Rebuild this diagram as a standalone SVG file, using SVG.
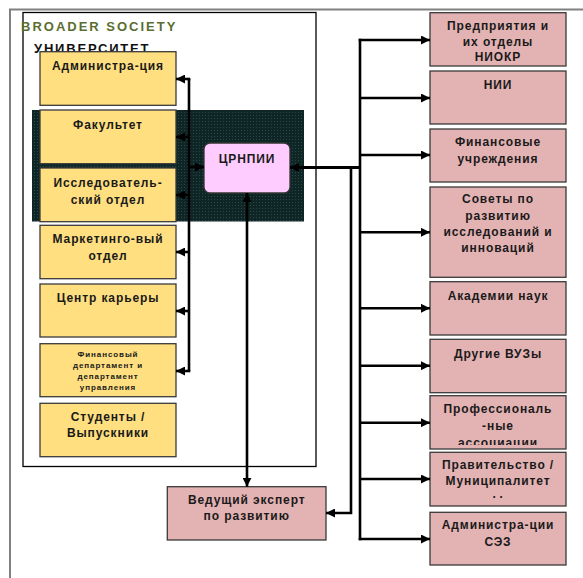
<svg xmlns="http://www.w3.org/2000/svg" width="583" height="578" viewBox="0 0 583 578">
<style>
text{font-family:"Liberation Sans",Arial,sans-serif;font-weight:bold;text-anchor:middle;fill:#1a1a1a}
.t{font-size:12px;letter-spacing:0.9px}
.s{font-size:8px;letter-spacing:0.9px}
.y{fill:#ffdf80;stroke:#3a3a3a;stroke-width:1.3}
.p{fill:#e3b2b3;stroke:#3a3a3a;stroke-width:1.3}
.c{fill:none;stroke:#000;stroke-width:2.6}
.ar{marker-end:url(#ah)}
</style>
<defs>
<marker id="ah" viewBox="0 0 10 10" refX="10" refY="5" markerWidth="9" markerHeight="9" markerUnits="userSpaceOnUse" orient="auto-start-reverse">
<path d="M0,0 L10,5 L0,10 z" fill="#000"/>
</marker>
<pattern id="dots" width="3" height="3" patternUnits="userSpaceOnUse">
<rect width="3" height="3" fill="#0f2626"/>
<rect x="1" y="1" width="0.8" height="0.8" fill="#3e5656"/>
</pattern>
<clipPath id="cp1"><rect x="430" y="396" width="136" height="49"/></clipPath>
<clipPath id="cp2"><rect x="430" y="452" width="136" height="46"/></clipPath>
</defs>

<g id="frame">
<path d="M10,578 L10,9.5 L583,9.5" fill="none" stroke="#808080" stroke-width="2"/>
<rect x="23" y="12.5" width="293" height="454" fill="#fff" stroke="#000" stroke-width="1.3"/>
<text x="21" y="30.5" style="text-anchor:start;font-size:13px;letter-spacing:2px;fill:#5a6e30">BROADER SOCIETY</text>
<text x="34" y="53" style="text-anchor:start;font-size:13px;letter-spacing:1.8px;fill:#111">УНИВЕРСИТЕТ</text>
<rect x="32" y="110" width="272" height="111.5" fill="url(#dots)"/>
</g>

<g id="n-admin"><rect class="y" x="40" y="51.7" width="136" height="53.6"/><text class="t" x="108" y="70">Администра-ция</text></g>
<g id="n-fak"><rect class="y" x="40" y="110" width="136" height="53.7"/><text class="t" x="108" y="129">Факультет</text></g>
<g id="n-issl"><rect class="y" x="40" y="168" width="136" height="53.7"/><text class="t" x="108" y="187">Исследователь-</text><text class="t" x="108" y="204">ский отдел</text></g>
<g id="n-mark"><rect class="y" x="40" y="225.3" width="136" height="53.4"/><text class="t" x="108" y="243">Маркетинго-вый</text><text class="t" x="108" y="260">отдел</text></g>
<g id="n-career"><rect class="y" x="40" y="284" width="136" height="53"/><text class="t" x="108" y="302">Центр карьеры</text></g>
<g id="n-fin"><rect class="y" x="40" y="343.7" width="136" height="53"/><text class="s" x="108" y="357">Финансовый</text><text class="s" x="108" y="368">департамент и</text><text class="s" x="108" y="379">департамент</text><text class="s" x="108" y="390">управления</text></g>
<g id="n-stud"><rect class="y" x="40" y="403.3" width="136" height="53.4"/><text class="t" x="108" y="421">Студенты /</text><text class="t" x="108" y="437">Выпускники</text></g>

<g id="n-crnpii"><rect x="204" y="143" width="86" height="50" rx="6" fill="#ffccff" stroke="#333" stroke-width="1.3"/><text class="t" x="247" y="162.5">ЦРНПИИ</text></g>
<g id="n-expert"><rect class="p" x="167.3" y="486.7" width="158.7" height="53.3"/><text class="t" x="246.7" y="504">Ведущий эксперт</text><text class="t" x="246.7" y="520">по развитию</text></g>

<g id="n-pred"><rect class="p" x="430" y="12.7" width="136" height="53.3"/><text class="t" x="498" y="30">Предприятия и</text><text class="t" x="498" y="45.7">их отделы</text><text class="t" x="498" y="61">НИОКР</text></g>
<g id="n-nii"><rect class="p" x="430" y="71" width="136" height="53"/><text class="t" x="498" y="89.3">НИИ</text></g>
<g id="n-finu"><rect class="p" x="430" y="129" width="136" height="53"/><text class="t" x="498" y="146">Финансовые</text><text class="t" x="498" y="163">учреждения</text></g>
<g id="n-sov"><rect class="p" x="430" y="187" width="136" height="90.3"/><text class="t" x="498" y="203">Советы по</text><text class="t" x="498" y="219.5">развитию</text><text class="t" x="498" y="236">исследований и</text><text class="t" x="498" y="252">инноваций</text></g>
<g id="n-akad"><rect class="p" x="430" y="281.7" width="136" height="53.3"/><text class="t" x="498" y="300">Академии наук</text></g>
<g id="n-vuz"><rect class="p" x="430" y="339.3" width="136" height="53.4"/><text class="t" x="498" y="358.3">Другие ВУЗы</text></g>
<g id="n-prof"><rect class="p" x="430" y="395.7" width="136" height="53.3"/><g clip-path="url(#cp1)"><text class="t" x="498" y="413.3">Профессиональ</text><text class="t" x="498" y="430">-ные</text><text class="t" x="498" y="446.5">ассоциации</text></g></g>
<g id="n-prav"><rect class="p" x="430" y="452.3" width="136" height="53.7"/><g clip-path="url(#cp2)"><text class="t" x="498" y="468.5">Правительство /</text><text class="t" x="498" y="485">Муниципалитет</text><text class="t" x="498" y="503">ы</text></g></g>
<g id="n-sez"><rect class="p" x="430" y="512.3" width="136" height="52.7"/><text class="t" x="498" y="528.5">Администра-ции</text><text class="t" x="498" y="545.5">СЭЗ</text></g>

<g id="connectors">
<path class="c" d="M189,79 L189,371"/>
<path class="c ar" d="M190.3,79 L176,79"/>
<path class="c ar" d="M189,137 L176,137"/>
<path class="c ar" d="M189,167 L204,167"/>
<path class="c ar" d="M189,195 L176,195"/>
<path class="c ar" d="M189,252 L176,252"/>
<path class="c ar" d="M189,311 L176,311"/>
<path class="c ar" d="M190.3,371 L176,371"/>
<path class="c ar" d="M247,193 L247,486.7" style="marker-start:url(#ah)"/>
<path class="c ar" d="M360,167.5 L290,167.5" style="stroke-width:3"/>
<path class="c ar" d="M351,167.5 L351,513 L326,513"/>
<path class="c" d="M360,38.7 L360,540.3"/>
<path class="c ar" d="M358.7,40 L430,40"/>
<path class="c ar" d="M360,98 L430,98"/>
<path class="c ar" d="M360,155 L430,155"/>
<path class="c ar" d="M360,232.3 L430,232.3"/>
<path class="c ar" d="M360,308.3 L430,308.3"/>
<path class="c ar" d="M360,365.7 L430,365.7"/>
<path class="c ar" d="M360,422.7 L430,422.7"/>
<path class="c ar" d="M360,479 L430,479"/>
<path class="c ar" d="M358.7,539 L430,539"/>
</g>
</svg>
